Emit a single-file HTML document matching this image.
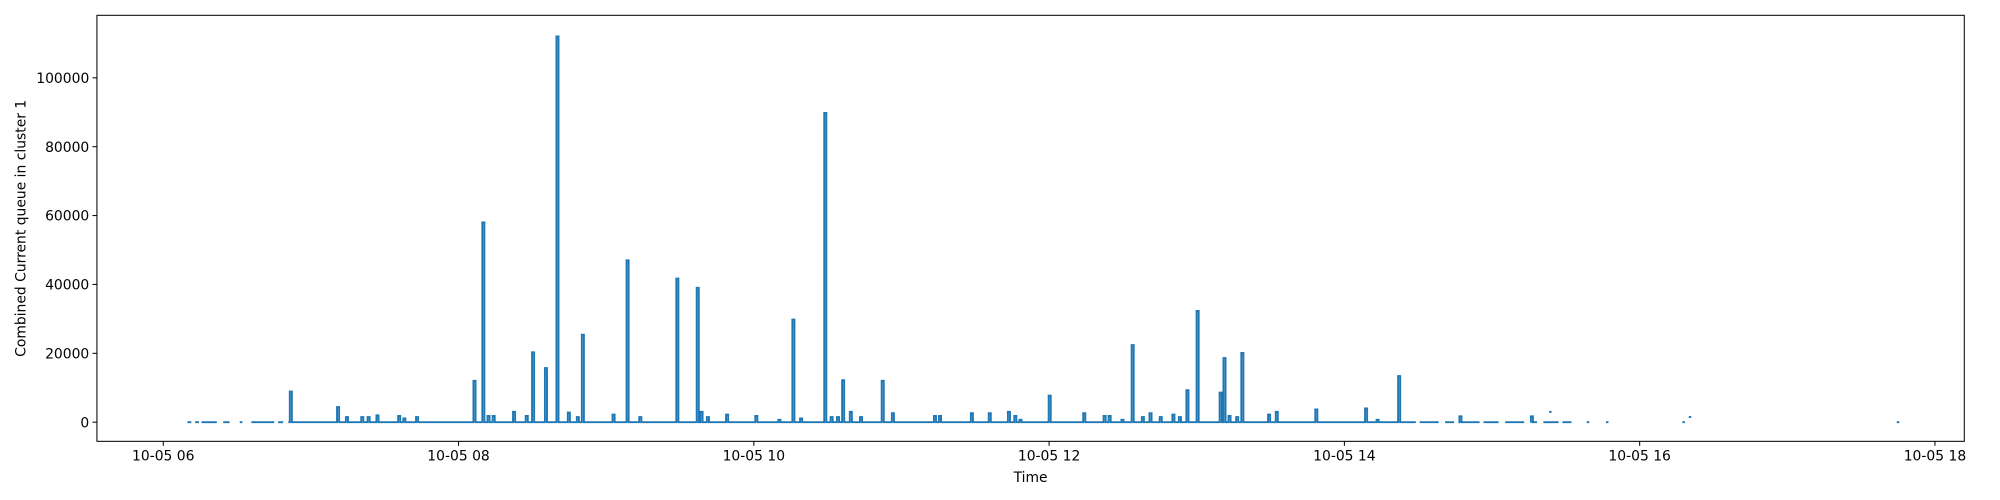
<!DOCTYPE html>
<html><head><meta charset="utf-8"><style>
html,body{margin:0;padding:0;background:#fff;overflow:hidden;}
svg{display:block;}
svg text{font-family:"DejaVu Sans","Liberation Sans",sans-serif;font-size:10.9px;fill:#000;}
</style></head><body>
<svg id="chart" width="2000" height="500" viewBox="0 0 1568 392" preserveAspectRatio="none" xmlns="http://www.w3.org/2000/svg"></svg>
<script>
// ---- data ----
const spikeTimes = [6.864,7.184,7.244,7.348,7.391,7.451,7.598,7.633,7.719,8.108,8.168,8.203,8.238,8.376,8.462,8.505,8.592,8.670,8.747,8.808,8.842,9.050,9.145,9.231,9.482,9.620,9.646,9.689,9.819,10.017,10.173,10.268,10.320,10.484,10.527,10.570,10.605,10.657,10.726,10.873,10.942,11.227,11.261,11.477,11.598,11.728,11.771,11.806,12.004,12.238,12.376,12.410,12.497,12.566,12.635,12.687,12.756,12.842,12.886,12.937,13.006,13.162,13.188,13.222,13.274,13.309,13.490,13.542,13.810,14.147,14.225,14.371,14.674,14.786,15.270];
const spikeValues = [8900,4400,1500,1500,1500,2000,1800,1100,1500,12000,58000,1800,1800,3000,1800,20300,15700,112000,2800,1500,25400,2200,47000,1500,41700,39000,3000,1500,2200,1800,700,29800,1100,89800,1500,1500,12200,3000,1500,12000,2600,1800,1800,2600,2600,3000,1800,700,7700,2600,1800,1800,700,22400,1500,2600,1500,2200,1500,9300,32300,8600,18600,1800,1500,20100,2200,3000,3700,4000,700,13400,1700,1700,1700];
const segStarts = [6.164,6.216,6.259,6.406,6.518,6.596,6.778,6.847,14.510,14.682,14.786,14.942,15.089,15.261,15.348,15.477];
const segEnds   = [6.190,6.242,6.363,6.449,6.536,6.752,6.812,14.484,14.639,14.743,14.916,15.045,15.218,15.305,15.451,15.538];
const dotTimes = [15.395,15.650,15.780,16.298,16.341,17.750];
const dotValues = [3000,0,0,0,1500,0];
const yTicks = [0,20000,40000,60000,80000,100000];
const xTicks = [6,8,10,12,14,16,18];
const xTickLabels = ["10-05 06","10-05 08","10-05 10","10-05 12","10-05 14","10-05 16","10-05 18"];

// ---- axes ----
const L=76,R=1540,T=12,B=346;
const xS = h => 128 + (h-6)*115.75;
const yS = v => 331 - v*0.0027;
const svg=document.getElementById('chart');
const NS='http://www.w3.org/2000/svg';
function mk(tag,attrs,parent){const e=document.createElementNS(NS,tag);for(const k in attrs)e.setAttribute(k,attrs[k]);(parent||svg).appendChild(e);return e;}

// series
const g=mk('g',{});


const w=0.014;
for(let s=0;s<segStarts.length;s++){
  const a=segStarts[s],b=segEnds[s];
  let d='M'+xS(a)+','+yS(0);
  for(let i=0;i<spikeTimes.length;i++){
    const t=spikeTimes[i];
    if(t<a||t>b)continue;
    d+=' L'+xS(t-w/2)+','+yS(0)+' L'+xS(t-w/2)+','+yS(spikeValues[i])+' L'+xS(t+w/2)+','+yS(spikeValues[i])+' L'+xS(t+w/2)+','+yS(0);
  }
  d+=' L'+xS(b)+','+yS(0);
  const p=mk('path',{d:d,fill:'none',stroke:'#1f77b4','stroke-width':1.5,'stroke-linejoin':'miter'},g);
  
  
}
for(let i=0;i<dotTimes.length;i++){
  const r=mk('rect',{x:xS(dotTimes[i])-1,y:yS(dotValues[i])-0.75,width:2,height:1.5,fill:'#1f77b4'},g);
  
  
}

// frame
const fr=mk('rect',{x:L,y:T,width:R-L,height:B-T,fill:'none',stroke:'#000','stroke-width':0.8});



// y ticks
for(const v of yTicks){
  const y=yS(v);
  const tl=mk('line',{x1:L-3.5,x2:L,y1:y,y2:y,stroke:'#000','stroke-width':0.8});
  
  
  const tx=mk('text',{x:L-6,y:y+4,'text-anchor':'end'});
  tx.textContent=String(v);
  
  
}
// x ticks
xTicks.forEach((h,i)=>{
  const x=xS(h);
  const tl=mk('line',{x1:x,x2:x,y1:B,y2:B+3.5,stroke:'#000','stroke-width':0.8});
  
  
  const tx=mk('text',{x:x,y:B+15,'text-anchor':'middle'});
  tx.textContent=xTickLabels[i];
  
  
});
const xl=mk('text',{x:(L+R)/2,y:378,'text-anchor':'middle'});
xl.textContent='Time';


const yl=mk('text',{x:0,y:0,'text-anchor':'middle',transform:'translate(20,179) rotate(-90)'});
yl.textContent='Combined Current queue in cluster 1';


</script>
</body></html>
